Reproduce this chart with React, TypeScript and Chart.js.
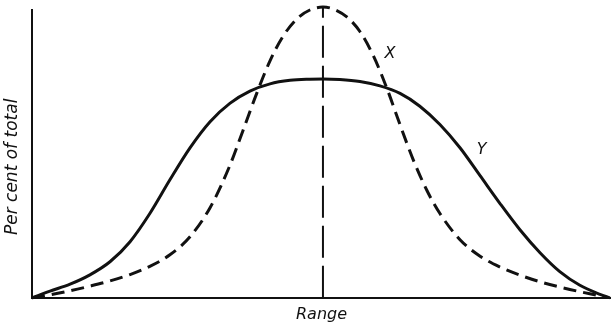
import { useEffect, useRef } from "react";
import { Chart, registerables } from "chart.js";

Chart.register(...registerables);

// Curve Y (solid, wide distribution)
const yRange = [-100, -93.8, -86.9, -80.1, -73.2, -66.3, -59.5, -52.6, -45.7, -38.8, -32, -25.1, -18.2, -11.3, -4.5, 0, 5.8, 12.7, 19.6, 26.5, 33.3, 40.2, 47.1, 54, 60.8, 67.7, 74.6, 81.4, 88.3, 95.2, 98.6];
const yPercent = [0, 2.3, 4.7, 7.9, 12.4, 19.3, 29.0, 40.6, 51.6, 60.6, 66.9, 71.1, 73.6, 74.8, 75.2, 75.3, 75.1, 74.4, 72.9, 70.3, 65.9, 59.6, 51.6, 42.0, 32.5, 23.4, 15.5, 9.0, 4.3, 1.2, 0];

// Curve X (dashed, narrow distribution)
const xRange = [-100, -93.8, -86.9, -80.1, -73.2, -66.3, -59.5, -52.6, -45.7, -38.8, -32, -27.5, -22.7, -18.2, -13.7, -8.9, -4.5, 0, 3.4, 8.2, 12.7, 17.2, 22, 26.5, 30.9, 35.7, 40.2, 47.1, 54, 60.8, 67.7, 74.6, 81.4, 88.3, 94.2, 97];
const xPercent = [0, 1.0, 2.4, 4.0, 5.8, 8.0, 10.8, 14.8, 21.0, 31.0, 45.5, 57.5, 70.5, 81.5, 90.0, 96.0, 99.0, 100, 99.4, 96.6, 91.6, 83.5, 72.0, 59.5, 47.8, 37.0, 29.0, 20.0, 14.3, 10.6, 7.8, 5.5, 3.7, 2.1, 0.9, 0.3];

// Central (mean) line
const centreRange = [0, 0];
const centrePercent = [0, 100];

// Curve name labels
const curveNames = ["X", "Y"];
const nameRange = [23, 54.5];
const namePercent = [84, 51];

const xTitle = "Range";
const yTitle = "Per cent of total";

const FONT = "'DejaVu Sans', sans-serif";

const toPoints = (xs: number[], ys: number[]) => xs.map((x, i) => ({ x, y: ys[i] }));

export default function App() {
  const ref = useRef<HTMLCanvasElement>(null);

  useEffect(() => {
    document.body.style.margin = "0";
    const canvas = ref.current;
    if (!canvas) return;

    const textPlugin = {
      id: "curveNames",
      afterDatasetsDraw(chart: any) {
        const { ctx, scales, chartArea } = chart;
        ctx.save();
        ctx.fillStyle = "#111";
        ctx.font = `oblique 16px ${FONT}`;
        ctx.textAlign = "center";
        ctx.textBaseline = "middle";
        curveNames.forEach((n, i) => {
          ctx.fillText(n, scales.x.getPixelForValue(nameRange[i]), scales.y.getPixelForValue(namePercent[i]));
        });
        // y-axis title, sitting a little below the axis centre as in the original
        ctx.font = `oblique 17px ${FONT}`;
        ctx.translate(chartArea.left - 19, chartArea.top + (chartArea.bottom - chartArea.top) * 0.545);
        ctx.rotate(-Math.PI / 2);
        ctx.fillText(yTitle, 0, 0);
        ctx.restore();
      },
    };

    const chart = new Chart(canvas, {
      type: "line",
      data: {
        datasets: [
          {
            label: "Y",
            data: toPoints(yRange, yPercent),
            borderColor: "#111",
            borderWidth: 3,
            pointRadius: 0,
            cubicInterpolationMode: "monotone",
            fill: false,
            clip: false as any,
          },
          {
            label: "X",
            data: toPoints(xRange, xPercent),
            borderColor: "#111",
            borderWidth: 3,
            borderDash: [13, 7],
            pointRadius: 0,
            cubicInterpolationMode: "monotone",
            fill: false,
            clip: false as any,
          },
          {
            label: "mean",
            data: toPoints(centreRange, centrePercent),
            borderColor: "#111",
            borderWidth: 2,
            borderDash: [32, 8],
            pointRadius: 0,
            fill: false,
            clip: false as any,
          },
        ],
      },
      options: {
        responsive: false,
        animation: false,
        layout: { padding: { top: 10, left: 32, right: 0, bottom: 0 } },
        plugins: { legend: { display: false }, tooltip: { enabled: false } },
        scales: {
          x: {
            type: "linear",
            min: -100,
            max: 99,
            grid: { display: false, drawTicks: false },
            ticks: { display: false },
            border: { display: true, color: "#111", width: 2 },
            title: {
              display: true,
              text: xTitle,
              color: "#111",
              font: { family: FONT, size: 16, style: "oblique" as any },
              padding: { top: 7, bottom: 7 },
            },
          },
          y: {
            type: "linear",
            min: 0,
            max: 99,
            grid: { display: false, drawTicks: false },
            ticks: { display: false },
            border: { display: true, color: "#111", width: 2 },
            title: { display: false },
          },
        },
      },
      plugins: [textPlugin],
    });

    return () => chart.destroy();
  }, []);

  return (
    <div style={{ width: 611, height: 331, background: "#fff" }}>
      <canvas ref={ref} width={611} height={331} />
    </div>
  );
}
